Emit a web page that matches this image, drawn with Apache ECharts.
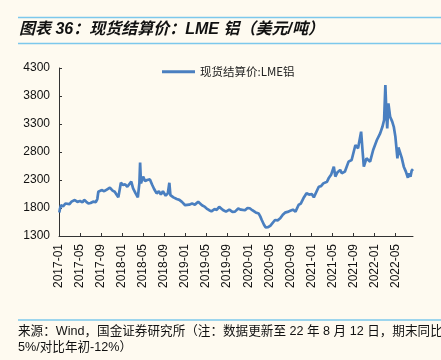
<!DOCTYPE html>
<html>
<head>
<meta charset="utf-8">
<script src="https://cdn.jsdelivr.net/npm/echarts@6/dist/echarts.min.js"></script>
<style>
html,body{margin:0;padding:0;background:#fefaf0;}
#c{width:441px;height:360px;}
</style>
</head>
<body>
<div id="c"></div>
<script>
const seriesName = '现货结算价:LME铝';
const dates = ['2017-01-03','2017-01-07','2017-01-13','2017-01-25','2017-02-07','2017-02-15','2017-03-01','2017-03-13','2017-04-01','2017-04-16','2017-05-01','2017-05-16','2017-05-25','2017-06-07','2017-06-19','2017-07-01','2017-07-16','2017-08-01','2017-08-10','2017-08-16','2017-09-04','2017-09-19','2017-10-04','2017-10-22','2017-11-07','2017-11-19','2017-12-01','2017-12-10','2017-12-25','2018-01-07','2018-01-19','2018-02-01','2018-02-10','2018-02-22','2018-03-04','2018-03-19','2018-04-01','2018-04-10','2018-04-14','2018-04-19','2018-05-01','2018-05-13','2018-05-25','2018-06-10','2018-06-22','2018-07-04','2018-07-19','2018-08-01','2018-08-13','2018-08-25','2018-09-10','2018-09-22','2018-10-01','2018-10-07','2018-10-25','2018-11-13','2018-11-28','2018-12-13','2019-01-01','2019-01-10','2019-01-25','2019-02-10','2019-02-25','2019-03-07','2019-03-16','2019-04-07','2019-04-19','2019-05-04','2019-05-19','2019-06-01','2019-06-19','2019-07-01','2019-07-16','2019-08-07','2019-08-25','2019-09-13','2019-10-01','2019-10-16','2019-11-04','2019-11-19','2019-12-13','2019-12-28','2020-01-10','2020-01-25','2020-02-13','2020-03-01','2020-03-10','2020-03-19','2020-04-01','2020-04-10','2020-04-25','2020-05-07','2020-05-16','2020-06-04','2020-06-19','2020-07-04','2020-07-19','2020-08-01','2020-08-16','2020-09-01','2020-09-16','2020-10-01','2020-10-19','2020-11-01','2020-11-16','2020-12-04','2020-12-19','2021-01-04','2021-01-16','2021-01-25','2021-02-13','2021-02-25','2021-03-10','2021-04-01','2021-04-10','2021-04-25','2021-05-10','2021-05-19','2021-06-01','2021-06-16','2021-06-25','2021-07-13','2021-08-04','2021-08-22','2021-09-01','2021-09-13','2021-09-28','2021-10-07','2021-10-16','2021-10-25','2021-11-01','2021-11-16','2021-12-07','2021-12-25','2022-01-16','2022-02-04','2022-02-16','2022-02-25','2022-03-04','2022-03-10','2022-03-15','2022-03-22','2022-04-01','2022-04-13','2022-04-22','2022-05-01','2022-05-13','2022-05-19','2022-05-28','2022-06-07','2022-06-19','2022-07-01','2022-07-13','2022-07-19','2022-07-28','2022-08-04','2022-08-12'];
const prices = [1720,1790,1850,1830,1880,1896,1870,1913,1943,1910,1925,1900,1945,1910,1880,1890,1913,1905,1960,2090,2120,2100,2130,2165,2110,2090,2033,1990,2250,2210,2223,2180,2200,2270,2150,2060,1990,2250,2610,2240,2360,2280,2300,2310,2220,2140,2060,2100,2040,2100,2020,2060,2250,2030,1990,1960,1945,1910,1850,1820,1860,1880,1860,1880,1910,1850,1830,1790,1760,1740,1780,1765,1820,1765,1735,1770,1730,1735,1790,1770,1760,1800,1795,1760,1720,1700,1650,1586,1500,1455,1460,1480,1500,1586,1580,1616,1680,1717,1730,1752,1770,1735,1854,1880,1973,2062,2040,2050,1990,2014,2180,2190,2240,2270,2330,2400,2538,2360,2440,2480,2420,2449,2628,2657,2640,2925,2866,2900,3163,2800,2538,2687,2628,2836,3014,3133,3250,3371,3996,3500,3223,3669,3431,3342,3250,3074,2687,2880,2895,2700,2538,2450,2340,2420,2360,2467,2496];
const yTicks = [1300,1800,2300,2800,3300,3800,4300];
const startYear = 2017;
const endDate = '2022-08-12';

function monthIndex(s){
  const [y,m,d] = s.split('-').map(Number);
  const dim = new Date(y, m, 0).getDate();
  return (y-startYear)*12 + (m-1) + (d-1)/dim;
}
const data = dates.map((d,i)=>[monthIndex(d), prices[i]]);

const chart = echarts.init(document.getElementById('c'), null, {renderer:'canvas'});
const latin = 'Liberation Sans, Arial, Noto Sans CJK SC, sans-serif';
chart.setOption({
  backgroundColor:'#fefaf0',
  animation:false,
  grid:{left:59, top:68, right:28, bottom:124, containLabel:false},
  legend:{
    data:[seriesName], left:157, top:61, icon:'rect', itemWidth:33, itemHeight:3, itemGap:4,
    textStyle:{fontFamily:'Noto Sans CJK SC, sans-serif', fontSize:11.5, color:'#222'}
  },
  xAxis:{
    type:'value', min:0, max:monthIndex(endDate), interval:4,
    splitLine:{show:false},
    axisLine:{lineStyle:{color:'#333', width:1}},
    axisTick:{inside:true, length:3, lineStyle:{color:'#333'}},
    axisLabel:{
      rotate:90, margin:8, fontFamily:latin, fontSize:12, color:'#111',
      showMaxLabel:false, showMinLabel:true,
      formatter:function(v){
        const y = startYear + Math.floor(v/12);
        const m = Math.round(v)%12 + 1;
        return y + '-' + (m<10?'0':'') + m;
      }
    }
  },
  yAxis:{
    type:'value', min:yTicks[0], max:yTicks[yTicks.length-1], interval:500,
    splitLine:{show:false},
    axisLine:{show:true, lineStyle:{color:'#333', width:1}},
    axisTick:{show:true, inside:true, length:3, lineStyle:{color:'#333'}},
    axisLabel:{fontFamily:latin, fontSize:12, color:'#111', margin:9, formatter:function(v){return String(v);}}
  },
  series:[{
    name:seriesName, type:'line', data:data, showSymbol:false, symbol:'none',
    lineStyle:{color:'#4a7fc0', width:2.7}, itemStyle:{color:'#4a7fc0'}
  }],
  graphic:[
    {type:'line', shape:{x1:18,y1:17.5,x2:441,y2:17.5}, style:{stroke:'#7cc8ec', lineWidth:1.5}},
    {type:'line', shape:{x1:18,y1:43.5,x2:441,y2:43.5}, style:{stroke:'#7cc8ec', lineWidth:1.5}},
    {type:'text', left:19, top:22, style:{text:'图表 36：现货结算价：LME 铝（美元/吨）', font:'italic bold 16px Liberation Sans, Noto Sans CJK SC, sans-serif', fill:'#111'}},
    {type:'line', shape:{x1:18,y1:320,x2:441,y2:320}, style:{stroke:'#7cc8ec', lineWidth:1.5}},
    {type:'text', left:18, top:325, style:{text:'来源：Wind，国金证券研究所（注：数据更新至 22 年 8 月 12 日，期末同比-', font:'12.6px Liberation Sans, Noto Sans CJK SC, sans-serif', fill:'#111'}},
    {type:'text', left:18, top:341, style:{text:'5%/对比年初-12%）', font:'12.6px Liberation Sans, Noto Sans CJK SC, sans-serif', fill:'#111'}}
  ]
});
</script>
</body>
</html>
